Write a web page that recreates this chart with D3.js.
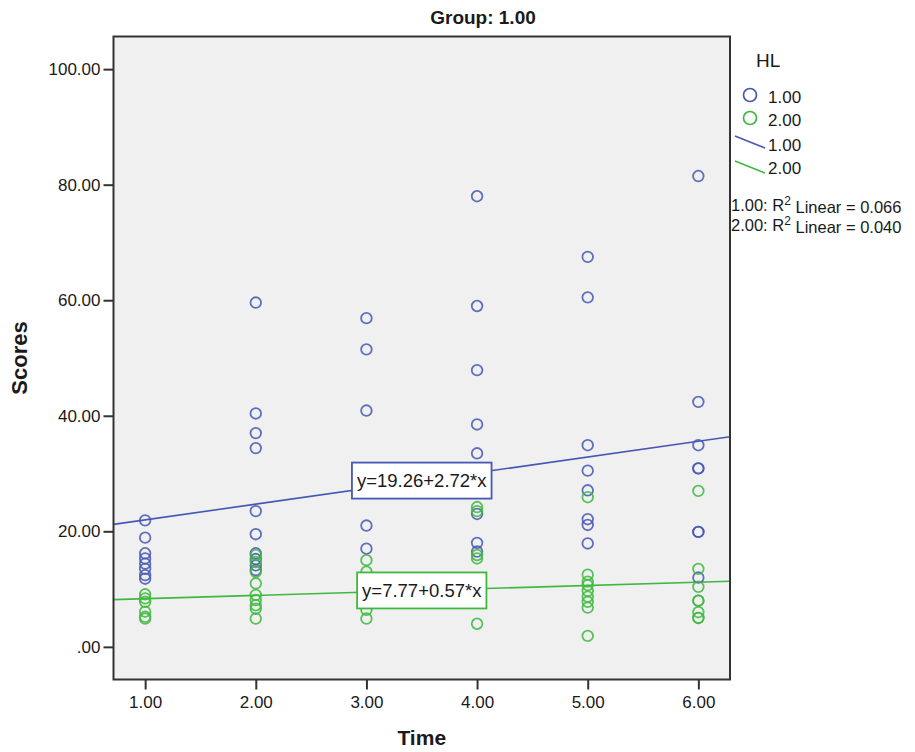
<!DOCTYPE html>
<html>
<head>
<meta charset="utf-8">
<script src="https://cdn.jsdelivr.net/npm/d3@7"></script>
<style>
  body { margin: 0; background: #fff; }
  text { font-family: "Liberation Sans", Arial, sans-serif; fill: #1a1a1a; }
</style>
</head>
<body>
<div id="chart"></div>
<script>
// Scatter of Scores over Time, split by HL, with linear fit lines (Group 1.00)
const groups = ['1.00', '2.00'];
const groupColors = ['#4658b4', '#3fb83f'];
const timeTicks = [1, 2, 3, 4, 5, 6];
const scoreTicks = [0, 20, 40, 60, 80, 100];

// HL 1.00 scores at each time point
const hl1Scores = [
  [21.9, 18.9, 16.2, 15.3, 14.4, 13.5, 12.4, 11.8],
  [59.6, 40.4, 37.0, 34.4, 23.5, 19.5, 16.2, 15.2, 14.1, 13.3],
  [56.9, 51.5, 40.9, 21.0, 17.0],
  [78.0, 59.0, 47.9, 38.5, 33.5, 23.0, 18.0, 16.5],
  [67.5, 60.5, 34.9, 30.5, 27.1, 22.1, 21.1, 17.9],
  [81.5, 42.4, 34.9, 30.9, 30.9, 19.9, 19.9, 12.0]
];
// HL 2.00 scores at each time point
const hl2Scores = [
  [9.1, 8.4, 7.8, 6.1, 5.2, 4.9],
  [15.9, 14.7, 13.0, 11.0, 9.0, 8.1, 7.2, 6.6, 4.9],
  [15.0, 13.0, 6.4, 4.9],
  [24.2, 23.5, 15.9, 15.3, 4.0],
  [25.9, 12.5, 11.3, 10.7, 9.7, 8.7, 7.8, 6.8, 1.9],
  [27.0, 13.5, 10.4, 8.0, 8.0, 6.0, 5.0, 5.0]
];
const fitIntercepts = [19.26, 7.77];
const fitSlopes = [2.72, 0.57];
const fitLabels = ['y=19.26+2.72*x', 'y=7.77+0.57*x'];
const rSquared = ['0.066', '0.040'];

const width = 915, height = 752;
const plot = { left: 113.5, right: 730, top: 36.5, bottom: 679.5 };

const svg = d3.select('#chart').append('svg')
  .attr('width', width)
  .attr('height', height);

const x = d3.scaleLinear().domain([0.714, 6.286]).range([plot.left, plot.right]);
const y = d3.scaleLinear().domain([-5.65, 105.65]).range([plot.bottom, plot.top]);

svg.append('defs').append('clipPath').attr('id', 'plot-clip')
  .append('rect')
  .attr('x', plot.left).attr('y', plot.top)
  .attr('width', plot.right - plot.left).attr('height', plot.bottom - plot.top);

// Plot background
svg.append('rect')
  .attr('x', plot.left).attr('y', plot.top)
  .attr('width', plot.right - plot.left).attr('height', plot.bottom - plot.top)
  .style('fill', '#f0f0f0');

// Axes
const fmt = d => d === 0 ? '.00' : d3.format('.2f')(d);
const yAxis = svg.append('g')
  .attr('transform', `translate(${plot.left},0)`)
  .call(d3.axisLeft(y).tickValues(scoreTicks).tickFormat(fmt).tickSize(10).tickPadding(3));
const xAxis = svg.append('g')
  .attr('transform', `translate(0,${plot.bottom})`)
  .call(d3.axisBottom(x).tickValues(timeTicks).tickFormat(fmt).tickSize(10).tickPadding(6));
[xAxis, yAxis].forEach(ax => {
  ax.select('.domain').remove();
  ax.selectAll('line').style('stroke', '#333').style('stroke-width', 2);
  ax.selectAll('text').style('font-size', '17px')
    .style('font-family', '"Liberation Sans", Arial, sans-serif').style('fill', '#1a1a1a');
});

const series = [hl1Scores, hl2Scores];
const points = [];
series.forEach((s, g) => s.forEach((vals, i) => vals.forEach(v =>
  points.push({ t: timeTicks[i], v, g }))));

const inner = svg.append('g').attr('clip-path', 'url(#plot-clip)');

// Fit lines
inner.selectAll('.fit')
  .data(groups)
  .enter()
  .append('line')
  .attr('class', 'fit')
  .attr('x1', x(x.domain()[0]))
  .attr('x2', x(x.domain()[1]))
  .attr('y1', (d, i) => y(fitIntercepts[i] + fitSlopes[i] * x.domain()[0]))
  .attr('y2', (d, i) => y(fitIntercepts[i] + fitSlopes[i] * x.domain()[1]))
  .style('stroke', (d, i) => groupColors[i])
  .style('stroke-width', 1.6);

// Points
inner.selectAll('.pt')
  .data(points)
  .enter()
  .append('circle')
  .attr('class', 'pt')
  .attr('cx', d => x(d.t))
  .attr('cy', d => y(d.v))
  .attr('r', 5.3)
  .style('fill', 'none')
  .style('stroke', d => groupColors[d.g])
  .style('stroke-opacity', 0.85)
  .style('stroke-width', 1.8);

// Equation labels, centred on each fit line at x = 3.5
const labelAt = 3.5;
groups.forEach((g, i) => {
  const cx = x(labelAt), cy = y(fitIntercepts[i] + fitSlopes[i] * labelAt);
  const lbl = inner.append('g').attr('transform', `translate(${cx},${cy})`);
  const t = lbl.append('text')
    .attr('text-anchor', 'middle')
    .attr('dy', '0.36em')
    .style('font-size', '18.5px')
    .text(fitLabels[i]);
  const w = t.node().getComputedTextLength() + 10;
  lbl.insert('rect', 'text')
    .attr('x', -w / 2).attr('y', -18)
    .attr('width', w).attr('height', 36)
    .style('fill', '#fff')
    .style('stroke', groupColors[i])
    .style('stroke-width', 1.8);
});

// Frame
svg.append('rect')
  .attr('x', plot.left).attr('y', plot.top)
  .attr('width', plot.right - plot.left).attr('height', plot.bottom - plot.top)
  .style('fill', 'none')
  .style('stroke', '#333')
  .style('stroke-width', 2);

// Titles
svg.append('text')
  .attr('x', 483).attr('y', 24)
  .attr('text-anchor', 'middle')
  .style('font-size', '19px').style('font-weight', 'bold')
  .text('Group: 1.00');
svg.append('text')
  .attr('x', (plot.left + plot.right) / 2).attr('y', 745)
  .attr('text-anchor', 'middle')
  .style('font-size', '21px').style('font-weight', 'bold')
  .text('Time');
svg.append('text')
  .attr('transform', `translate(27,${(plot.top + plot.bottom) / 2}) rotate(-90)`)
  .attr('text-anchor', 'middle')
  .style('font-size', '22px').style('font-weight', 'bold')
  .text('Scores');

// Legend
const legend = svg.append('g');
legend.append('text')
  .attr('x', 756).attr('y', 67)
  .style('font-size', '19px')
  .text('HL');
groups.forEach((g, i) => {
  legend.append('circle')
    .attr('cx', 750).attr('cy', 95 + i * 23).attr('r', 6.5)
    .style('fill', 'none').style('stroke', groupColors[i]).style('stroke-width', 1.7);
  legend.append('text')
    .attr('x', 768).attr('y', 97 + i * 23).attr('dy', '0.35em')
    .style('font-size', '17px').text(g);
  legend.append('line')
    .attr('x1', 735).attr('y1', 136 + i * 25)
    .attr('x2', 765).attr('y2', 148 + i * 25)
    .style('stroke', groupColors[i]).style('stroke-width', 1.6);
  legend.append('text')
    .attr('x', 768).attr('y', 145 + i * 23).attr('dy', '0.35em')
    .style('font-size', '17px').text(g);
  const r2 = legend.append('text')
    .attr('x', 731).attr('y', 205 + i * 20).attr('dy', '0.35em')
    .style('font-size', '16.5px');
  r2.append('tspan').text(`${g}: R`);
  r2.append('tspan').attr('dy', '-0.45em').style('font-size', '12px').text('2');
  r2.append('tspan').attr('dy', '0.45em').text(` Linear = ${rSquared[i]}`);
});
</script>
</body>
</html>
